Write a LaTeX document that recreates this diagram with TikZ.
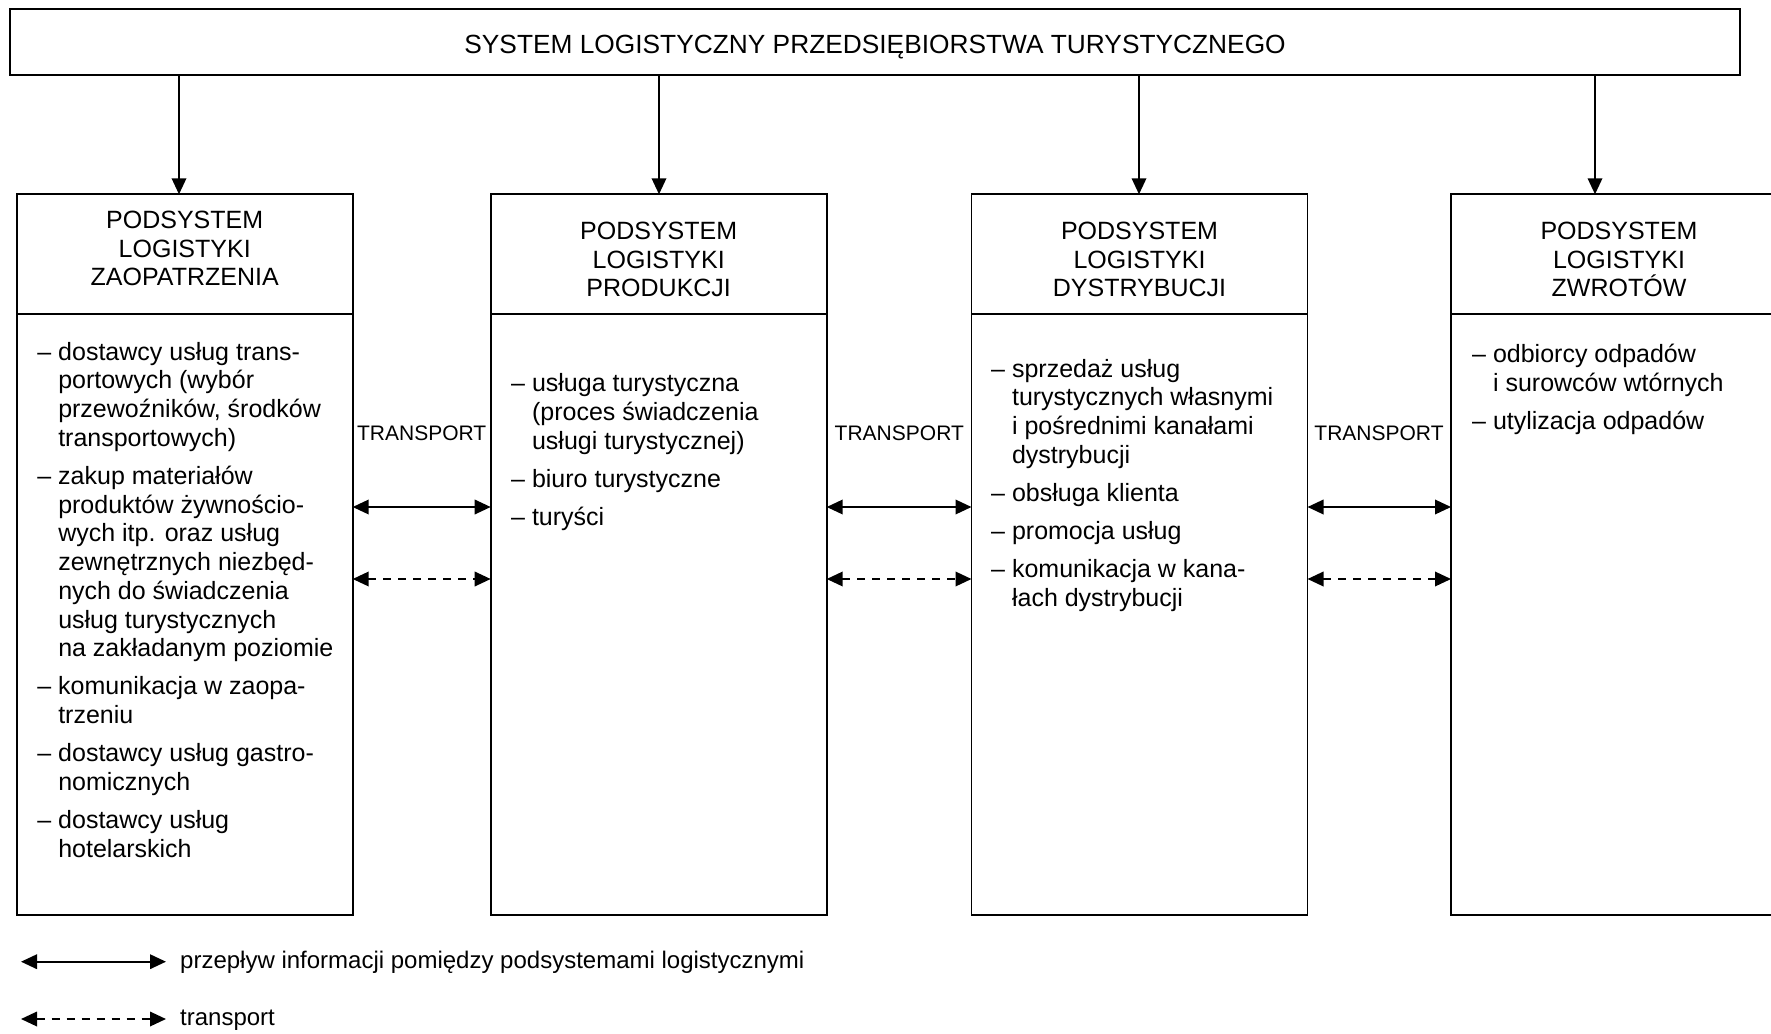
\documentclass[tikz,border=0pt]{standalone}
\usepackage{fontspec}
\setmainfont{Liberation Sans}
\usetikzlibrary{arrows.meta}
\begin{document}
\begin{tikzpicture}[x=1pt,y=-1pt,
  frame/.style={draw, line width=1.9pt, rectangle, inner sep=0pt, outer sep=0pt, anchor=north west, minimum width=336pt},
  hdr/.style={frame, minimum height=120pt},
  bdy/.style={frame, minimum height=600.4pt},
  hdrtext/.style={font=\fontsize{25}{28.7}\selectfont, align=center, anchor=north, inner sep=0pt},
  itemtext/.style={font=\fontsize{25}{28.7}\selectfont, align=left, anchor=north west, inner sep=0pt},
  trlabel/.style={font=\fontsize{21}{24}\selectfont, anchor=base, inner sep=0pt},
  legtext/.style={font=\fontsize{24}{28}\selectfont, anchor=base west, inner sep=0pt},
  tipx/.tip={Triangle[length=16pt,width=14.5pt]},
  downarr/.style={line width=1.9pt, -tipx},
  infoarr/.style={line width=1.9pt, tipx-tipx},
  transarr/.style={line width=1.9pt, tipx-tipx, dash pattern=on 8pt off 7pt}
]
\useasboundingbox (0,0) rectangle (1771,1033);
\clip (0,0) rectangle (1771,1033);
\fill[white] (0,0) rectangle (1771,1033);

% top box
\node[draw, line width=2.5pt, inner sep=0pt, outer sep=0pt, anchor=north west,
      minimum width=1730pt, minimum height=66pt] (top) at (10,9) {};
\node[anchor=base, inner sep=0pt, font=\fontsize{26.3}{30}\selectfont] (title) at (875,53.3)
  {SYSTEM LOGISTYCZNY PRZEDSIĘBIORSTWA TURYSTYCZNEGO};

% subsystem boxes
\node[hdr] (h1) at (16.7,194.3) {};
\node[bdy] (b1) at (16.7,314.3) {};
\node[hdr] (h2) at (490.7,194.3) {};
\node[bdy] (b2) at (490.7,314.3) {};
\node[hdr] (h3) at (971.5,194.3) {};
\node[bdy] (b3) at (971.5,314.3) {};
\node[hdr] (h4) at (1451,194.3) {};
\node[bdy] (b4) at (1451,314.3) {};

% header texts
\node[hdrtext] (t1) at (184.7,210.3) {\rule{0pt}{18pt}PODSYSTEM\\LOGISTYKI\\ZAOPATRZENIA};
\node[hdrtext] (t2) at (658.7,221.3) {\rule{0pt}{18pt}PODSYSTEM\\LOGISTYKI\\PRODUKCJI};
\node[hdrtext] (t3) at (1139.5,221.3) {\rule{0pt}{18pt}PODSYSTEM\\LOGISTYKI\\DYSTRYBUCJI};
\node[hdrtext] (t4) at (1619,221.3) {\rule{0pt}{18pt}PODSYSTEM\\LOGISTYKI\\ZWROTÓW};

% item lists
\node[itemtext] (i1) at (37.2,340) {\rule{0pt}{20pt}– dostawcy usług trans-\\
\phantom{– }portowych (wybór\\
\phantom{– }przewoźników, środków\\
\phantom{– }transportowych)\\[9.5pt]
– zakup materiałów\\
\phantom{– }produktów żywnościo-\\
\phantom{– }wych itp. oraz usług\\
\phantom{– }zewnętrznych niezbęd-\\
\phantom{– }nych do świadczenia\\
\phantom{– }usług turystycznych\\
\phantom{– }na zakładanym poziomie\\[9.5pt]
– komunikacja w zaopa-\\
\phantom{– }trzeniu\\[9.5pt]
– dostawcy usług gastro-\\
\phantom{– }nomicznych\\[9.5pt]
– dostawcy usług\\
\phantom{– }hotelarskich};

\node[itemtext] (i2) at (511,371.7) {\rule{0pt}{20pt}– usługa turystyczna\\
\phantom{– }(proces świadczenia\\
\phantom{– }usługi turystycznej)\\[9.5pt]
– biuro turystyczne\\[9.5pt]
– turyści};

\node[itemtext] (i3) at (991,357) {\rule{0pt}{20pt}– sprzedaż usług\\
\phantom{– }turystycznych własnymi\\
\phantom{– }i pośrednimi kanałami\\
\phantom{– }dystrybucji\\[9.5pt]
– obsługa klienta\\[9.5pt]
– promocja usług\\[9.5pt]
– komunikacja w kana-\\
\phantom{– }łach dystrybucji};

\node[itemtext] (i4) at (1472,342.5) {\rule{0pt}{20pt}– odbiorcy odpadów\\
\phantom{– }i surowców wtórnych\\[9.5pt]
– utylizacja odpadów};

% arrows from top box
\coordinate (ax1) at (179,0);
\coordinate (ax2) at (659,0);
\coordinate (ax3) at (1139,0);
\coordinate (ax4) at (1595,0);
\draw[downarr] (top.south -| ax1) -- (h1.north -| ax1);
\draw[downarr] (top.south -| ax2) -- (h2.north -| ax2);
\draw[downarr] (top.south -| ax3) -- (h3.north -| ax3);
\draw[downarr] (top.south -| ax4) -- (h4.north -| ax4);

% horizontal arrows
\coordinate (ys) at (0,507);
\coordinate (yd) at (0,579);
\draw[infoarr] (b1.east |- ys) -- (b2.west |- ys);
\draw[infoarr] (b2.east |- ys) -- (b3.west |- ys);
\draw[infoarr] (b3.east |- ys) -- (b4.west |- ys);
\draw[transarr] (b1.east |- yd) -- (b2.west |- yd);
\draw[transarr] (b2.east |- yd) -- (b3.west |- yd);
\draw[transarr] (b3.east |- yd) -- (b4.west |- yd);

% TRANSPORT labels
\node[trlabel] (tr1) at (421.7,440.7) {TRANSPORT};
\node[trlabel] (tr2) at (899.3,440.7) {TRANSPORT};
\node[trlabel] (tr3) at (1379,440.7) {TRANSPORT};

% legend
\coordinate (l1a) at (21,961.7);
\coordinate (l1b) at (166,961.7);
\coordinate (l2a) at (21,1019);
\coordinate (l2b) at (166,1019);
\draw[infoarr] (l1a) -- (l1b);
\draw[transarr] (l2a) -- (l2b);
\node[legtext] (lg1) at (180,968) {przepływ informacji pomiędzy podsystemami logistycznymi};
\node[legtext] (lg2) at (180,1025.5) {transport};
\end{tikzpicture}
\end{document}
